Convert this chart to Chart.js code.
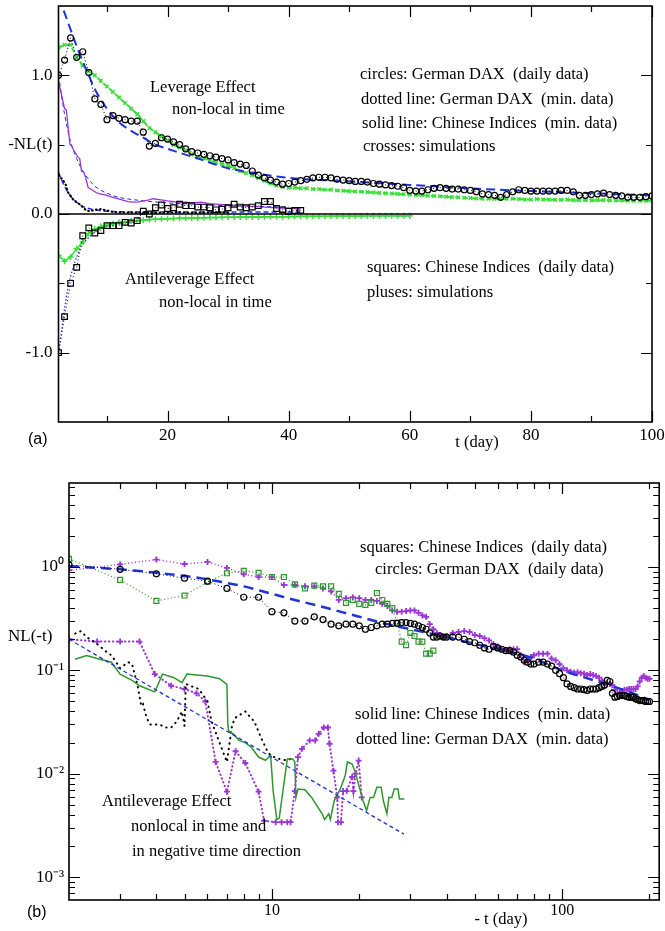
<!DOCTYPE html>
<html>
<head>
<meta charset="utf-8">
<title>Leverage and antileverage effect</title>
<script src="https://cdn.jsdelivr.net/npm/chart.js@4.4.1/dist/chart.umd.min.js"></script>
<style>
  html, body { margin: 0; padding: 0; background: #fff; }
  #wrap { position: relative; width: 665px; height: 931px; }
  #chartA { position: absolute; left: 0; top: 0; }
  #chartB { position: absolute; left: 0; top: 465px; }
</style>
</head>
<body>
<div id="wrap">
  <canvas id="chartA" width="665" height="465"></canvas>
  <canvas id="chartB" width="665" height="466"></canvas>
</div>
<script>
// ---------- panel (a): -NL(t) against t (day) ----------
const aDays = [2,3,4,5,6,7,8,9,10,11,12,13,14,15,16,17,18,19,20,21,22,23,24,25,26,27,28,29,30,31,
  32,33,34,35,36,37,38,39,40,41,42,43,44,45,46,47,48,49,50,51,52,53,54,55,56,57,58,59,60,61,
  62,63,64,65,66,67,68,69,70,71,72,73,74,75,76,77,78,79,80,81,82,83,84,85,86,87,88,89,90,91,
  92,93,94,95,96,97,98,99,100];
// circles: German DAX (daily data)
const daxDailyA = [1.00,1.11,1.27,1.13,1.17,1.02,0.83,0.79,0.68,0.71,
  0.69,0.68,0.67,0.67,0.59,0.49,0.51,0.55,0.54,0.52,
  0.50,0.47,0.45,0.44,0.43,0.42,0.41,0.40,0.39,0.37,
  0.36,0.35,0.31,0.28,0.26,0.245,0.23,0.215,0.22,0.23,
  0.24,0.25,0.26,0.265,0.265,0.26,0.25,0.245,0.24,0.235,
  0.235,0.23,0.22,0.215,0.21,0.205,0.20,0.19,0.17,0.165,
  0.165,0.175,0.185,0.19,0.185,0.18,0.18,0.175,0.17,0.16,
  0.145,0.14,0.135,0.12,0.14,0.16,0.175,0.17,0.165,0.165,
  0.165,0.165,0.165,0.17,0.17,0.16,0.135,0.135,0.14,0.145,
  0.15,0.14,0.135,0.13,0.12,0.12,0.12,0.125,0.13];
// crosses: simulations (leverage)
const simLevA = [1.20,1.22,1.22,1.13,1.07,1.03,1.00,0.96,0.92,0.88,
  0.84,0.80,0.76,0.72,0.67,0.62,0.59,0.56,0.53,0.50,
  0.48,0.46,0.43,0.41,0.40,0.39,0.37,0.36,0.35,0.33,
  0.31,0.295,0.28,0.26,0.24,0.22,0.205,0.195,0.19,0.19,
  0.185,0.185,0.18,0.18,0.175,0.175,0.17,0.168,0.165,0.162,
  0.16,0.158,0.155,0.152,0.15,0.148,0.145,0.142,0.14,0.138,
  0.135,0.132,0.13,0.128,0.125,0.122,0.12,0.117,0.115,0.112,
  0.11,0.11,0.108,0.108,0.11,0.11,0.108,0.105,0.105,0.108,
  0.105,0.104,0.102,0.102,0.104,0.10,0.10,0.10,0.098,0.10,
  0.10,0.098,0.097,0.098,0.096,0.095,0.096,0.095,0.095];
// blue dashed fit through the circles
const fitLevDays = [2,3,4,5,6,7,8,10,12,14,16,18,20,25,30,35,40,50,60,70,80,90,100];
const fitLevA = [1.56,1.45,1.33,1.21,1.10,1.00,0.90,0.76,0.66,0.60,0.55,0.50,0.47,0.40,0.33,0.29,0.26,0.235,0.21,0.185,0.165,0.15,0.135];
// solid line: Chinese Indices (min. data)
const chMinDaysA = [2.0,2.5,3.0,3.3,3.6,3.9,4.2,4.5,4.8,5.2,5.5,5.8,6.2,6.5,6.9,7.3,7.7,8.2,8.8,9.5,
  10.2,11.0,11.8,12.6,13.5,14.3,15.2,16.0,16.8,17.6,18.4,19.2,20.0,21.0,22.0,23.0,24.0,25.5,27.0,28.5,
  30.0,32.0,34.0,36.0,38.0,40.0,42.0];
const chMinA = [0.95,0.86,0.76,0.75,0.62,0.50,0.49,0.46,0.44,0.41,0.40,0.31,0.30,0.26,0.19,0.18,0.17,0.155,0.145,0.14,
  0.13,0.12,0.11,0.10,0.09,0.085,0.088,0.095,0.10,0.11,0.105,0.10,0.095,0.09,0.08,0.085,0.08,0.085,0.075,0.07,
  0.065,0.06,0.055,0.05,0.045,0.04,0.036];
const fitChDaysA = [2,3,4,5,6,7,8,10,12,15,20,25,30,40];
const fitChA = [1.0,0.72,0.52,0.40,0.31,0.25,0.20,0.15,0.12,0.10,0.08,0.07,0.06,0.05];
// dotted line: German DAX (min. data)
const daxMinDaysA = [2.0,2.4,2.8,3.2,3.6,4.0,4.5,5.0,5.5,6.0,6.6,7.2,8.0,9.0,10,11,12,13,14,15,16,18,20,22,24,26,28,30];
const daxMinA = [0.28,0.26,0.24,0.21,0.155,0.13,0.10,0.085,0.07,0.05,0.025,0.02,0.03,0.035,
  0.025,0.015,0.012,0.01,0.012,0.01,0.012,0.008,0.01,0.012,0.008,0.01,0.012,0.01];
const fitDaxDaysA = [2,3,4,5,6,7,8,10,15,20,30,42];
const fitDaxA = [0.30,0.20,0.13,0.085,0.055,0.04,0.03,0.02,0.015,0.015,0.015,0.015];
// squares: Chinese Indices (daily data)
const sqDaysA = [2,3,4,5,6,7,8,9,10,11,12,13,14,15,16,17,18,19,20,21,22,23,24,25,26,27,28,29,30,31,
  32,33,34,35,36,37,38,39,40,41,42];
const chDailyA = [-1.00,-0.74,-0.50,-0.385,-0.157,-0.10,-0.137,-0.12,-0.084,-0.084,
  -0.084,-0.06,-0.065,-0.048,0.02,0.0,0.045,0.065,0.04,0.045,
  0.07,0.06,0.06,0.05,0.05,0.045,0.03,0.035,0.045,0.07,
  0.05,0.045,0.05,0.06,0.09,0.09,0.04,0.03,0.02,0.025,0.026];
// pluses: simulations (antileverage)
const plDaysA = [2,3,4,5,6,7,8,9,10,11,12,13,14,15,16,17,18,19,20,21,22,23,24,25,26,27,28,29,30,31,
  32,33,34,35,36,37,38,39,40,41,42,43,44,45,46,47,48,49,50,51,52,53,54,55,56,57,58,59,60];
const simAntiA = [-0.30,-0.34,-0.31,-0.25,-0.20,-0.14,-0.11,-0.09,-0.08,-0.07,
  -0.06,-0.055,-0.05,-0.048,-0.045,-0.04,-0.038,-0.036,-0.034,-0.032,
  -0.031,-0.03,-0.029,-0.028,-0.027,-0.026,-0.025,-0.024,-0.024,-0.023,
  -0.022,-0.022,-0.021,-0.021,-0.02,-0.02,-0.019,-0.019,-0.018,-0.018,
  -0.017,-0.017,-0.016,-0.016,-0.016,-0.015,-0.015,-0.015,-0.014,-0.014,
  -0.014,-0.013,-0.013,-0.013,-0.013,-0.012,-0.012,-0.012,-0.012];
const fitAntiDays = [2,2.5,3,3.5,4,5,6,7,8,10,12,15,20,30,40,60];
const fitAntiA = [-1.0,-0.85,-0.68,-0.55,-0.45,-0.31,-0.22,-0.17,-0.13,-0.09,-0.07,-0.05,-0.035,-0.025,-0.02,-0.015];

const aXTicks = [10,20,30,40,50,60,70,80,90,100];
const aXLabels = [20,40,60,80,100];
const aYTicks = [-1,-0.5,0,0.5,1];
const aYMajor = [-1,0,1];
const aYLabels = {'-1': '-1.0', '-0.5': '', '0': '0.0', '0.5': '-NL(t)', '1': '1.0'};

// ---------- panel (b): NL(-t) against -t (day), log-log ----------
const bDays = [2,3,4,5,6,7,8,9,10,11,12,13,14,15,16,17,18,19,20,21,22,23,24,25,26,27,28,29,30,31,
  32,33,34,35,36,37,38,39,40,42,44,46,48,50,52,54,56,58,60,62,64,66,68,70,72,74,76,78,80,
  83,86,89,92,95,98,101,104,107,110,113,116,119,122,125,128,131,134,137,140,
  143,146,149,152,155,158,161,164,167,170,173,176,179,182,185,188,191,194,197,200];
// circles: German DAX (daily data)
const daxDailyB = [1.05,0.95,0.86,0.78,0.73,0.62,0.51,0.51,0.37,0.36,
  0.30,0.30,0.33,0.31,0.28,0.27,0.28,0.28,0.27,0.25,
  0.26,0.27,0.28,0.28,0.285,0.285,0.29,0.29,0.285,0.28,
  0.27,0.26,0.25,0.23,0.21,0.21,0.215,0.21,0.21,
  0.21,0.21,0.20,0.19,0.185,0.175,0.165,0.16,0.17,0.165,
  0.16,0.155,0.155,0.15,0.14,0.135,0.125,0.12,0.115,0.115,
  0.12,0.12,0.115,0.11,0.10,0.093,0.085,0.074,0.07,0.068,
  0.066,0.066,0.065,0.064,0.066,0.066,0.066,0.068,0.07,0.072,
  0.08,0.078,0.06,0.055,0.056,0.057,0.057,0.057,0.056,0.055,
  0.055,0.055,0.053,0.052,0.051,0.051,0.051,0.05,0.05,0.05];
// purple pluses (upper group)
const simB = [0.93,1.06,1.18,1.07,1.12,0.98,0.85,0.80,0.80,0.67,
  0.67,0.65,0.65,0.62,0.58,0.48,0.50,0.51,0.50,0.48,
  0.48,0.47,0.44,0.42,0.38,0.37,0.37,0.375,0.38,0.38,
  0.36,0.34,0.33,0.28,0.25,0.23,0.22,0.21,0.215,
  0.23,0.235,0.24,0.235,0.22,0.215,0.205,0.195,0.18,0.17,
  0.16,0.155,0.16,0.16,0.16,0.14,0.12,0.125,0.135,0.14,
  0.145,0.145,0.145,0.13,0.125,0.115,0.105,0.10,0.097,0.095,
  0.096,0.094,0.093,0.09,0.092,0.09,0.088,0.085,0.08,0.076,
  0.074,0.074,0.072,0.065,0.06,0.061,0.063,0.065,0.065,0.066,
  0.066,0.066,0.066,0.07,0.078,0.085,0.088,0.085,0.083,0.083];
// squares: Chinese Indices (daily data)
const sqDaysB = [2,3,4,5,6,7,8,9,10,11,12,13,14,15,16,17,18,19,20,21,22,23,24,25,26,27,28,29,30,31,32,33,34,35,36];
const chDailyB = [1.2,0.75,0.47,0.53,0.72,0.87,0.92,0.88,0.80,0.80,
  0.68,0.62,0.66,0.65,0.65,0.55,0.45,0.48,0.44,0.43,
  0.45,0.56,0.48,0.44,0.40,0.29,0.19,0.175,0.23,0.215,
  0.19,0.19,0.145,0.145,0.155];
const fitBDays = [2,3,4,5,6,7,8,10,12,15,20,25,30,40,50,60,70,80,100,120,150,200];
const fitB = [1.02,0.95,0.88,0.82,0.76,0.70,0.65,0.55,0.48,0.41,0.33,0.28,0.25,0.21,0.18,0.16,0.145,0.13,0.10,0.085,0.07,0.052];
// lower group: pluses, solid line (Chinese min.), dotted line (DAX min.)
const simLowDays = [2,2.5,3,3.5,3.95,4.5,5,5.5,5.9,6.4,7,7.5,8.1,9,9.4,10.3,10.8,11.3,11.6,12.0,
  12.3,12.7,13.5,14.1,14.5,15.1,15.6,15.8,16.3,16.8,16.9,17.3,17.6,18.1,18.9,19.1,19.4,19.9,20.4];
const simLowB = [0.20,0.19,0.19,0.19,0.092,0.071,0.066,0.06,0.05,0.013,0.0067,0.0165,0.0127,0.0067,0.0035,0.0034,0.0034,0.0034,0.0034,0.0068,
  0.0145,0.0174,0.021,0.021,0.0243,0.028,0.028,0.0195,0.0107,0.0059,0.0034,0.0034,0.0068,0.0068,0.0093,0.0068,0.01,0.0134,0.0059];
const chMinDaysB = [2.1,2.3,2.5,2.8,3.0,3.3,3.5,3.95,4.2,4.6,4.9,5.1,5.5,6.0,6.6,7.0,7.05,7.1,7.4,7.7,
  8.1,8.5,9.0,9.5,9.9,10.1,10.4,10.6,11.0,11.3,11.8,12.0,12.1,12.3,13.0,13.7,14.9,15.2,15.7,15.9,
  16.4,17.2,17.9,18.2,18.9,19.4,19.9,20.1,20.6,21.2,21.8,22.4,23.0,23.8,24.2,24.9,25.3,25.9,26.4,27.2,27.5,28.6];
const chMinB = [0.128,0.139,0.13,0.12,0.092,0.08,0.071,0.062,0.092,0.085,0.076,0.092,0.09,0.088,0.083,0.073,0.03,0.026,0.024,0.021,
  0.02,0.018,0.0145,0.0135,0.015,0.0068,0.0036,0.0037,0.008,0.0139,0.0139,0.013,0.0059,0.0071,0.007,0.0059,0.0041,0.0036,0.0041,0.0036,
  0.0055,0.0071,0.0096,0.013,0.0124,0.0103,0.0078,0.0071,0.0055,0.0044,0.0059,0.0059,0.0074,0.0074,0.0055,0.0041,0.0059,0.0059,0.0071,0.0071,0.0057,0.0057];
const daxMinDaysB = [2.1,2.2,2.3,2.5,2.7,2.8,3.0,3.2,3.3,3.45,3.55,3.6,3.7,3.8,4.1,4.3,4.5,4.7,4.9,5.0,
  5.05,5.3,5.6,6.0,6.2,6.6,7.0,7.3,7.5,8.1,8.7,9.2,9.7,10.0,10.5,11.2,11.7];
const daxMinB = [0.227,0.24,0.21,0.18,0.15,0.14,0.105,0.12,0.115,0.07,0.045,0.047,0.035,0.03,0.03,0.028,0.028,0.032,0.04,0.029,
  0.074,0.07,0.066,0.05,0.032,0.02,0.013,0.03,0.035,0.04,0.032,0.022,0.016,0.0148,0.014,0.0135,0.014];
const fitLowDays = [2,28.5];
const fitLowB = [0.20,0.0026];

const bXTicks = [3,4,5,6,7,8,9,10,20,30,40,50,60,70,80,90,100,200];
const bXMajor = [10,100];
const bYTicks = [7e-4,8e-4,9e-4,1e-3,2e-3,3e-3,4e-3,5e-3,6e-3,7e-3,8e-3,9e-3,
  1e-2,2e-2,3e-2,4e-2,5e-2,6e-2,7e-2,8e-2,9e-2,0.1,0.2,0.3,0.4,0.5,0.6,0.7,0.8,0.9,1,2,3,4,5,6];
const bYMajor = [1e-3,1e-2,0.1,1];
const bYLabels = {'1': '10\u2070', '0.1': '10\u207B\u00B9', '0.01': '10\u207B\u00B2', '0.001': '10\u207B\u00B3'};

const BLUE = '#1f33dd';
const LIME = '#36e036';
const GREEN = '#2e962e';
const PURPLE = '#9c35d6';
const SERIF = "'Liberation Serif', 'Times New Roman', serif";

Chart.defaults.font.family = SERIF;
Chart.defaults.color = '#000';

function pts(xs, ys) {
  return xs.map((x, i) => ({x: x, y: ys[i]}));
}

// frame with inward ticks on all four sides
const frameTicks = {
  id: 'frameTicks',
  afterDatasetsDraw(chart, args, o) {
    const {ctx, chartArea: a, scales: {x, y}} = chart;
    ctx.save();
    ctx.strokeStyle = '#000';
    ctx.lineWidth = 1.2;
    ctx.beginPath();
    o.xTicks.forEach(v => {
      const px = Math.round(x.getPixelForValue(v)) + 0.5;
      const len = o.xMajor.includes(v) ? 11 : 6;
      ctx.moveTo(px, a.bottom); ctx.lineTo(px, a.bottom - len);
      ctx.moveTo(px, a.top); ctx.lineTo(px, a.top + len);
    });
    o.yTicks.forEach(v => {
      const py = Math.round(y.getPixelForValue(v)) + 0.5;
      const len = o.yMajor.includes(v) ? 11 : 6;
      ctx.moveTo(a.left, py); ctx.lineTo(a.left + len, py);
      ctx.moveTo(a.right, py); ctx.lineTo(a.right - len, py);
    });
    ctx.stroke();
    if (o.zeroLine) {
      const p0 = y.getPixelForValue(0);
      ctx.lineWidth = 1.5;
      ctx.beginPath();
      ctx.moveTo(a.left, p0); ctx.lineTo(a.right, p0);
      ctx.stroke();
    }
    ctx.lineWidth = 1.6;
    ctx.strokeRect(a.left, a.top, a.right - a.left, a.bottom - a.top);
    ctx.restore();
  }
};

// free text on the plot
const notes = {
  id: 'notes',
  afterDraw(chart, args, o) {
    const ctx = chart.ctx;
    ctx.save();
    ctx.fillStyle = '#000';
    ctx.textBaseline = 'middle';
    o.items.forEach(it => {
      ctx.font = it.font || ('16.5px ' + SERIF);
      ctx.textAlign = it.align || 'left';
      ctx.fillText(it.text, it.x, it.y);
    });
    ctx.restore();
  }
};

function baseOptions() {
  return {
    responsive: false,
    animation: false,
    events: [],
    devicePixelRatio: 1,
    plugins: { legend: { display: false }, tooltip: { enabled: false } }
  };
}

// ---------- chart (a) ----------
const optsA = baseOptions();
optsA.layout = { padding: { left: 0, top: 6, right: 13, bottom: 0 } };
optsA.scales = {
  x: {
    type: 'linear', min: 2, max: 100,
    grid: { display: false, drawTicks: false }, border: { display: false },
    afterFit: s => { s.height = 43; s.paddingLeft = 0; s.paddingRight = 0; },
    afterBuildTicks: s => { s.ticks = aXLabels.map(v => ({value: v})); },
    ticks: { autoSkip: false, maxRotation: 0, padding: 3, font: { size: 17 } }
  },
  y: {
    type: 'linear', min: -1.5, max: 1.5,
    grid: { display: false, drawTicks: false }, border: { display: false },
    afterFit: s => { s.width = 58.5; s.paddingTop = 0; s.paddingBottom = 0; },
    afterBuildTicks: s => { s.ticks = aYTicks.map(v => ({value: v})); },
    ticks: { autoSkip: false, padding: 6, font: { size: 17 },
      callback: v => aYLabels[String(v)] || '' }
  }
};
optsA.plugins.frameTicks = { xTicks: aXTicks, xMajor: aXLabels, yTicks: aYTicks, yMajor: aYMajor, zeroLine: true };
optsA.plugins.notes = { items: [
  { text: 'Leverage Effect', x: 150, y: 88 },
  { text: 'non-local in time', x: 172, y: 110 },
  { text: 'circles: German DAX  (daily data)', x: 360, y: 75 },
  { text: 'dotted line: German DAX  (min. data)', x: 361, y: 100 },
  { text: 'solid line: Chinese Indices  (min. data)', x: 362, y: 124 },
  { text: 'crosses: simulations', x: 363, y: 147 },
  { text: 'Antileverage Effect', x: 125, y: 280 },
  { text: 'non-local in time', x: 159, y: 303 },
  { text: 'squares: Chinese Indices  (daily data)', x: 367, y: 268 },
  { text: 'pluses: simulations', x: 367, y: 293 },
  { text: 't (day)', x: 477, y: 443, align: 'center' },
  { text: '(a)', x: 28, y: 440, font: "16px 'Liberation Sans', Arial, sans-serif" }
]};

new Chart(document.getElementById('chartA'), {
  type: 'line',
  data: {
    datasets: [
      { data: pts(aDays, daxDailyA), borderColor: '#000', borderWidth: 1, borderDash: [1, 2.5],
        pointStyle: 'circle', pointRadius: 3, pointBorderWidth: 1.2, pointBorderColor: '#000',
        pointBackgroundColor: 'rgba(0,0,0,0)' },
      { data: pts(sqDaysA, chDailyA), borderColor: '#000', borderWidth: 1, borderDash: [1, 2.5],
        pointStyle: 'rect', pointRadius: 4, pointBorderWidth: 1.2, pointBorderColor: '#000',
        pointBackgroundColor: 'rgba(0,0,0,0)' },
      { data: pts(fitLevDays, fitLevA), borderColor: BLUE, borderWidth: 2, borderDash: [9, 5],
        pointRadius: 0, cubicInterpolationMode: 'monotone' },
      { data: pts(chMinDaysA, chMinA), borderColor: PURPLE, borderWidth: 1.3, pointRadius: 0 },
      { data: pts(fitChDaysA, fitChA), borderColor: BLUE, borderWidth: 1, borderDash: [4, 3],
        pointRadius: 0, cubicInterpolationMode: 'monotone' },
      { data: pts(daxMinDaysA, daxMinA), borderColor: '#000', borderWidth: 2.2, borderDash: [0.5, 3.5],
        borderCapStyle: 'round', pointRadius: 0 },
      { data: pts(fitDaxDaysA, fitDaxA), borderColor: BLUE, borderWidth: 1.5, borderDash: [5, 3],
        pointRadius: 0, cubicInterpolationMode: 'monotone' },
      { data: pts(aDays, simLevA), borderColor: LIME, borderWidth: 2, borderDash: [5, 3],
        pointStyle: 'crossRot', pointRadius: 2.5, pointBorderWidth: 1.5, pointBorderColor: LIME },
      { data: pts(plDaysA, simAntiA), borderColor: LIME, borderWidth: 1.5,
        pointStyle: 'cross', pointRadius: 3, pointBorderWidth: 1.5, pointBorderColor: LIME },
      { data: pts(fitAntiDays, fitAntiA), borderColor: BLUE, borderWidth: 1.2, borderDash: [1.5, 2],
        pointRadius: 0, cubicInterpolationMode: 'monotone' }
    ]
  },
  options: optsA,
  plugins: [frameTicks, notes]
});

// ---------- chart (b) ----------
const optsB = baseOptions();
optsB.layout = { padding: { left: 0, top: 18, right: 2, bottom: 0 } };
optsB.scales = {
  x: {
    type: 'logarithmic', min: 2, max: 216,
    grid: { display: false, drawTicks: false }, border: { display: false },
    afterFit: s => { s.height = 31; s.paddingLeft = 0; s.paddingRight = 0; },
    afterBuildTicks: s => { s.ticks = bXMajor.map(v => ({value: v})); },
    ticks: { autoSkip: false, maxRotation: 0, padding: 1, font: { size: 16 },
      callback: v => String(v) }
  },
  y: {
    type: 'logarithmic', min: 6e-4, max: 6.5,
    grid: { display: false, drawTicks: false }, border: { display: false },
    afterFit: s => { s.width = 69; s.paddingTop = 0; s.paddingBottom = 0; },
    afterBuildTicks: s => { s.ticks = bYMajor.map(v => ({value: v})); },
    ticks: { autoSkip: false, padding: 5, font: { size: 17 },
      callback: v => bYLabels[String(v)] || '' }
  }
};
optsB.plugins.frameTicks = { xTicks: bXTicks, xMajor: bXMajor, yTicks: bYTicks, yMajor: bYMajor, zeroLine: false };
optsB.plugins.notes = { items: [
  { text: 'squares: Chinese Indices  (daily data)', x: 360, y: 83 },
  { text: 'circles: German DAX  (daily data)', x: 375, y: 105 },
  { text: 'solid line: Chinese Indices  (min. data)', x: 355, y: 250 },
  { text: 'dotted line: German DAX  (min. data)', x: 356, y: 275 },
  { text: 'Antileverage Effect', x: 102, y: 337 },
  { text: 'nonlocal in time and', x: 131, y: 362 },
  { text: 'in negative time direction', x: 132, y: 387 },
  { text: 'NL(-t)', x: 8, y: 172, font: '17px ' + SERIF },
  { text: '- t (day)', x: 501, y: 455, align: 'center' },
  { text: '(b)', x: 27, y: 448, font: "16px 'Liberation Sans', Arial, sans-serif" }
]};

new Chart(document.getElementById('chartB'), {
  type: 'line',
  data: {
    datasets: [
      { data: pts(bDays, daxDailyB), borderColor: '#000', borderWidth: 1, borderDash: [1, 2.5],
        pointStyle: 'circle', pointRadius: 3, pointBorderWidth: 1.2, pointBorderColor: '#000',
        pointBackgroundColor: 'rgba(0,0,0,0)' },
      { data: pts(fitBDays, fitB), borderColor: BLUE, borderWidth: 2.5, borderDash: [10, 6],
        pointRadius: 0, cubicInterpolationMode: 'monotone' },
      { data: pts(sqDaysB, chDailyB), borderColor: GREEN, borderWidth: 1.2, borderDash: [1, 2.5],
        pointStyle: 'rect', pointRadius: 3.5, pointBorderWidth: 1.2, pointBorderColor: GREEN,
        pointBackgroundColor: 'rgba(0,0,0,0)' },
      { data: pts(bDays, simB), borderColor: PURPLE, borderWidth: 1.5, borderDash: [1, 2.5],
        pointStyle: 'cross', pointRadius: 3, pointBorderWidth: 1.8, pointBorderColor: PURPLE },
      { data: pts(fitLowDays, fitLowB), borderColor: BLUE, borderWidth: 1.3, borderDash: [4, 3],
        pointRadius: 0 },
      { data: pts(chMinDaysB, chMinB), borderColor: GREEN, borderWidth: 1.5, pointRadius: 0 },
      { data: pts(daxMinDaysB, daxMinB), borderColor: '#000', borderWidth: 2, borderDash: [0.5, 5],
        borderCapStyle: 'round', pointRadius: 0 },
      { data: pts(simLowDays, simLowB), borderColor: PURPLE, borderWidth: 2, borderDash: [0.5, 3.5],
        borderCapStyle: 'round', pointStyle: 'cross', pointRadius: 3, pointBorderWidth: 1.8,
        pointBorderColor: PURPLE }
    ]
  },
  options: optsB,
  plugins: [frameTicks, notes]
});
</script>
</body>
</html>
